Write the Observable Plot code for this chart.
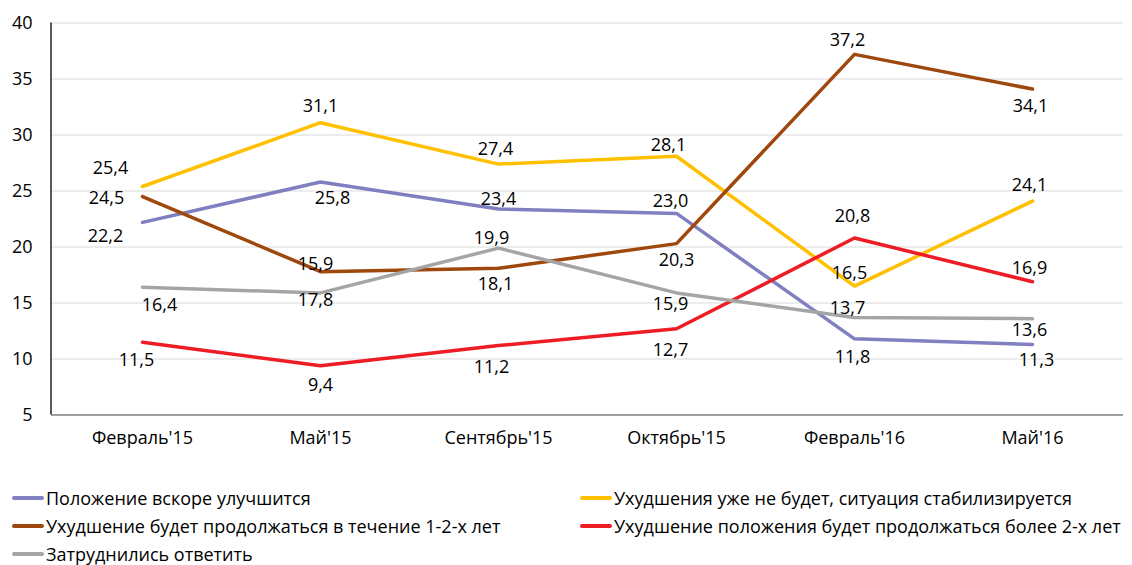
<!DOCTYPE html>
<html><head><meta charset="utf-8">
<script src="https://cdn.jsdelivr.net/npm/d3@7"></script>
<script src="https://cdn.jsdelivr.net/npm/@observablehq/plot@0.6"></script>
<style>
body{margin:0;background:#fff;font-family:"Open Sans",sans-serif;}
#legend{position:relative;height:100px;font-size:18px;color:#000;}
.li{position:absolute;display:flex;align-items:center;white-space:nowrap;}
.sw{width:32px;height:4px;margin-right:2px;border-radius:2px;}
</style></head>
<body><div id="chart"></div><div id="legend"></div>
<script>
const categories = ["Февраль'15","Май'15","Сентябрь'15","Октябрь'15","Февраль'16","Май'16"];
const seriesNames = [
  "Положение вскоре улучшится",
  "Ухудшения уже не будет, ситуация стабилизируется",
  "Ухудшение будет продолжаться в течение 1-2-х лет",
  "Ухудшение положения будет продолжаться более 2-х лет",
  "Затруднились ответить"
];
const improveSoon   = [22.2, 25.8, 23.4, 23.0, 11.8, 11.3];
const stabilizes    = [25.4, 31.1, 27.4, 28.1, 16.5, 24.1];
const worse1to2     = [24.5, 17.8, 18.1, 20.3, 37.2, 34.1];
const worseOver2    = [11.5,  9.4, 11.2, 12.7, 20.8, 16.9];
const hardToSay     = [16.4, 15.9, 19.9, 15.9, 13.7, 13.6];
const yTicks = [5,10,15,20,25,30,35,40];

const colors = ["#7F7FC1","#FFC000","#9E480E","#EE1C25","#A5A5A5"];
// label offsets in px (dx, dy) per series / point
const labelDx = [
  [-37, 12, 0, -6, -2, 4],
  [-32, 0, -3, -8, -5, -3],
  [-36, -5, -3, 0, -7, -2],
  [-6, 0, -7, -6, -2, -3],
  [17, -5, -7, -6, -7, -3]
];
const labelDy = [
  [14, 16, -10, -12, 18, 16],
  [-18, -16, -15, -11, -13, -16],
  [2, 29, 16, 17, -14, 17],
  [18, 20, 22, 21, -22, -13],
  [18, -29, -10, 11, -9, 12]
];

const seriesValues = [improveSoon, stabilizes, worse1to2, worseOver2, hardToSay];
const data = [];
seriesValues.forEach((vals, s) => vals.forEach((v, i) => data.push({series: seriesNames[s], s, i, cat: categories[i], value: v})));
const fmt = v => v.toFixed(1).replace(".", ",");

const textMarks = data.map(d => Plot.text([d], {
  x: "cat", y: "value", text: d => fmt(d.value),
  dx: labelDx[d.s][d.i], dy: labelDy[d.s][d.i],
  fontSize: 18, fill: "#000"
}));

const chart = Plot.plot({
  width: 1132, height: 465,
  marginTop: 22.5, marginBottom: 50.5, marginLeft: 51, marginRight: 9,
  style: {fontFamily: "'Open Sans', sans-serif", fontSize: "18px", color: "#000", background: "#fff"},
  x: {type: "point", domain: categories, padding: 0.5, label: null},
  y: {domain: [5, 40], label: null},
  color: {domain: seriesNames, range: colors},
  marks: [
    Plot.ruleY(yTicks.filter(t => t > 5), {stroke: "#D9D9D9", strokeWidth: 1}),
    Plot.ruleY([5], {stroke: "#7F7F7F", strokeWidth: 1.3}),
    Plot.axisY({ticks: yTicks, tickSize: 0, tickPadding: 19, tickFormat: d => d, fontSize: 18}),
    Plot.axisX({tickSize: 0, tickPadding: 16, fontSize: 18}),
    Plot.line(data, {x: "cat", y: "value", z: "series", stroke: "series", strokeWidth: 3.5, strokeLinejoin: "round", strokeLinecap: "round"}),
    ...textMarks
  ]
});
// left axis line
const ys = chart.scale("y");
d3.select(chart).append("line")
  .attr("x1", 51).attr("x2", 51)
  .attr("y1", ys.range[1]).attr("y2", ys.range[0])
  .attr("stroke", "#000").attr("stroke-width", 1.3);
document.getElementById("chart").appendChild(chart);

const legendPos = [[12, 33], [580, 33], [12, 61], [580, 61], [12, 89]];
const leg = document.getElementById("legend");
seriesNames.forEach((n, k) => {
  const el = document.createElement("div");
  el.className = "li";
  el.style.left = legendPos[k][0] + "px";
  el.style.top = (legendPos[k][1] - 12) + "px";
  el.style.height = "24px";
  el.innerHTML = `<span class="sw" style="background:${colors[k]}"></span><span>${n}</span>`;
  leg.appendChild(el);
});
</script></body></html>
